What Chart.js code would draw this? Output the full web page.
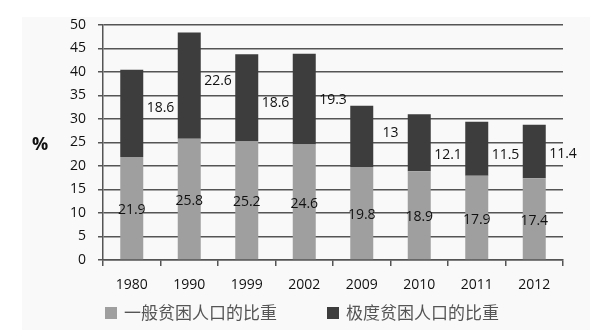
<!DOCTYPE html>
<html><head><meta charset="utf-8">
<script src="https://cdn.jsdelivr.net/npm/chart.js@4"></script>
<style>html,body{margin:0;padding:0;background:#fff}#wrap{width:609px;height:330px}</style>
</head><body><div id="wrap"><canvas id="c" width="609" height="330"></canvas></div>
<script>
const years = ['1980','1990','1999','2002','2009','2010','2011','2012'];
const generalShare = [21.9,25.8,25.2,24.6,19.8,18.9,17.9,17.4];
const extremeShare = [18.6,22.6,18.6,19.3,13,12.1,11.5,11.4];
const seriesNames = ['一般贫困人口的比重','极度贫困人口的比重'];
const axisTitle = '%';

const labelNudge = [-5,-5,5,1,-3,12,6,3];

const extras = {
  id:'extras',
  beforeDraw(chart){
    const ctx = chart.ctx;
    ctx.save();
    ctx.fillStyle = '#f9f9f9';
    ctx.fillRect(22, 17, 568, 313);
    ctx.restore();
  },
  afterDatasetsDraw(chart){
    const ctx = chart.ctx;
    ctx.save();
    ctx.font = '14px "Open Sans", sans-serif';
    ctx.fillStyle = '#111';
    ctx.textAlign = 'center';
    ctx.textBaseline = 'middle';
    const xs = chart.scales.x;
    const catW = (xs.right - xs.left)/years.length;
    chart.data.datasets.forEach((ds, di)=>{
      const meta = chart.getDatasetMeta(di);
      meta.data.forEach((bar, i)=>{
        const midY = (bar.y + bar.base)/2;
        if(di===0){
          ctx.fillText(String(ds.data[i]), bar.x, midY + 2);
        } else {
          ctx.fillText(String(ds.data[i]), bar.x + catW/2, midY + labelNudge[i]);
        }
      });
    });
    // axis title
    ctx.font = 'bold 18px "Open Sans", sans-serif';
    ctx.fillText(axisTitle, 40, 145);
    // legend
    ctx.font = '17px "Noto Sans CJK SC", sans-serif';
    ctx.textAlign = 'left';
    const box = 12, gapBox = 7, gapItem = 50;
    const items = chart.data.datasets.map(ds => ({text: ds.label, color: ds.backgroundColor, w: ctx.measureText(ds.label).width}));
    const total = items.reduce((s,it)=>s+box+gapBox+it.w,0) + gapItem*(items.length-1);
    let x = 302 - total/2;
    const y = 313;
    items.forEach(it=>{
      ctx.fillStyle = it.color;
      ctx.fillRect(x, y - box/2, box, box);
      ctx.fillStyle = '#555';
      ctx.fillText(it.text, x + box + gapBox, y);
      x += box + gapBox + it.w + gapItem;
    });
    ctx.restore();
  }
};

new Chart(document.getElementById('c'), {
  type:'bar',
  data:{
    labels: years,
    datasets:[
      {label: seriesNames[0], data: generalShare, backgroundColor:'#9f9f9f', barPercentage:0.8, categoryPercentage:0.5},
      {label: seriesNames[1], data: extremeShare, backgroundColor:'#3d3d3d', barPercentage:0.8, categoryPercentage:0.5}
    ]
  },
  options:{
    responsive:false,
    animation:false,
    layout:{padding:{top:25,right:46,left:0,bottom:36}},
    plugins:{
      legend:{display:false},
      tooltip:{enabled:false}
    },
    scales:{
      x:{
        stacked:true,
        grid:{display:true, drawOnChartArea:false, drawTicks:true, tickLength:6, color:'#555', lineWidth:1.5, offset:true},
        border:{color:'#555', width:1.5},
        ticks:{color:'#111', font:{family:'"Open Sans", sans-serif', size:14}, padding:11},
        afterFit(s){ s.height = 34; }
      },
      y:{
        stacked:true,
        min:0, max:50,
        ticks:{stepSize:5, color:'#111', font:{family:'"Open Sans", sans-serif', size:14}, padding:12},
        grid:{color:'#555', lineWidth:1.5, tickLength:5},
        border:{color:'#555', width:1.5},
        afterFit(s){ s.width = 103; }
      }
    }
  },
  plugins:[extras]
});
</script></body></html>
